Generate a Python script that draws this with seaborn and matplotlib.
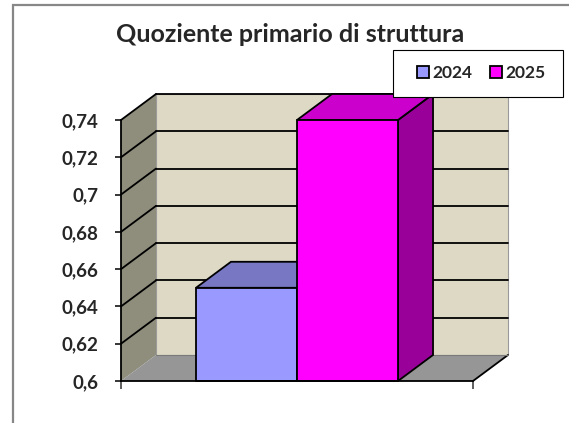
import matplotlib
matplotlib.use("Agg")
import matplotlib.pyplot as plt
from matplotlib.patches import Polygon, Rectangle, Patch
from matplotlib.ticker import FixedLocator, FixedFormatter
import seaborn as sns
import pandas as pd

# --- data -------------------------------------------------------------
category = ["Quoziente primario di struttura"]
years = ["2024", "2025"]
values = [0.65, 0.74]
front_colors = ["#9999ff", "#ff00ff"]
top_colors = ["#7777c4", "#cc00cc"]
side_colors = ["#6f6fb0", "#990099"]
tick_values = [0.6, 0.62, 0.64, 0.66, 0.68, 0.7, 0.72, 0.74]
tick_labels = ["0,6", "0,62", "0,64", "0,66", "0,68", "0,7", "0,72", "0,74"]
title = "Quoziente primario di struttura"

df = pd.DataFrame({"cat": category * len(years), "anno": years, "valore": values})

sns.set_style("white")
plt.rcParams["font.family"] = ["Lato", "DejaVu Sans"]
plt.rcParams["font.weight"] = "bold"

W, H = 569, 423
fig = plt.figure(figsize=(W / 100, H / 100), dpi=100)

# front plane of the 3D box, in pixels
fx0, fx1 = 121, 473
fy_bot, fy_top = 381, 120
ax = fig.add_axes([fx0 / W, 1 - fy_bot / H, (fx1 - fx0) / W, (fy_bot - fy_top) / H])

sns.barplot(data=df, x="cat", y="valore", hue="anno", hue_order=years,
            palette=front_colors, width=0.574, edgecolor="black", linewidth=1.3,
            saturation=1, ax=ax, legend=False)
bars = sorted([p for p in ax.patches if isinstance(p, Rectangle)], key=lambda p: p.get_x())

ax.set_ylim(tick_values[0], tick_values[-1])
ax.set_xlim(-0.5, 0.5)
x0, x1 = ax.get_xlim()
y0, y1 = ax.get_ylim()
# depth of the box as data offsets
ddx = 35 / (fx1 - fx0) * (x1 - x0)
ddy = 26 / (fy_bot - fy_top) * (y1 - y0)

# walls and floor
back = Rectangle((x0 + ddx, y0 + ddy), x1 - x0, y1 - y0, facecolor="#ddd9c4",
                 edgecolor="#9a9a9a", linewidth=0.8, zorder=0.2, clip_on=False)
side = Polygon([(x0, y0), (x0, y1), (x0 + ddx, y1 + ddy), (x0 + ddx, y0 + ddy)],
               closed=True, facecolor="#8f8d7b", edgecolor="none", zorder=0.3, clip_on=False)
floor = Polygon([(x0, y0), (x0 + ddx, y0 + ddy), (x1 + ddx, y0 + ddy), (x1, y0)],
                closed=True, facecolor="#969696", edgecolor="none", zorder=0.4, clip_on=False)
for p in (back, side, floor):
    ax.add_patch(p)
ax.plot([x1, x1 + ddx], [y0, y0 + ddy], color="black", lw=1.3, zorder=0.5, clip_on=False)
ax.plot([x0 + ddx, x1 + ddx], [y0 + ddy, y0 + ddy], color="#7a7a7a", lw=0.8, zorder=0.5, clip_on=False)

# gridlines on the back wall and the side wall
for v in tick_values[1:]:
    ax.plot([x0 + ddx, x1 + ddx], [v + ddy, v + ddy], color="black", lw=1.3, zorder=0.6, clip_on=False)
    ax.plot([x0, x0 + ddx], [v, v + ddy], color="black", lw=1.3, zorder=0.6, clip_on=False)

# 3D faces of each bar, built from the bar patches (bars start at the floor)
for i, b in enumerate(bars):
    bx, bw = b.get_x(), b.get_width()
    top_y = b.get_y() + b.get_height()
    b.set_y(y0)
    b.set_height(top_y - y0)
    z = 1 + i
    b.set_zorder(z + 0.3)
    b.set_clip_on(False)
    top = Polygon([(bx, top_y), (bx + bw, top_y), (bx + bw + ddx, top_y + ddy), (bx + ddx, top_y + ddy)],
                  closed=True, facecolor=top_colors[i], edgecolor="black", linewidth=1.3,
                  zorder=z + 0.1, clip_on=False)
    rside = Polygon([(bx + bw, y0), (bx + bw, top_y), (bx + bw + ddx, top_y + ddy), (bx + bw + ddx, y0 + ddy)],
                    closed=True, facecolor=side_colors[i], edgecolor="black", linewidth=1.3,
                    zorder=z + 0.05, clip_on=False)
    ax.add_patch(rside)
    ax.add_patch(top)

# axes styling
for s in ("top", "right"):
    ax.spines[s].set_visible(False)
for s in ("left", "bottom"):
    ax.spines[s].set_color("black")
    ax.spines[s].set_linewidth(1.3)
    ax.spines[s].set_zorder(5)
ax.yaxis.set_major_locator(FixedLocator(tick_values))
ax.yaxis.set_major_formatter(FixedFormatter(tick_labels))
ax.tick_params(axis="y", direction="out", length=4, width=1.1, color="black",
               pad=12, labelsize=13.5, left=True)
ax.set_xticks([x0, x1])
ax.set_xticklabels(["", ""])
ax.tick_params(axis="x", direction="out", length=6, width=1.1, color="#333333", bottom=True)
for lab in ax.get_yticklabels():
    lab.set_fontweight("bold")
ax.set_xlabel("")
ax.set_ylabel("")
ax.set_facecolor("none")

# title
fig.text(290 / W, 1 - 35 / H, title, ha="center", va="center", fontsize=18, fontweight="bold")

# legend box and entries
lx0, lx1, ly_top, ly_bot = 393, 563, 50, 97
fig.patches.append(Rectangle((lx0 / W, 1 - ly_bot / H), (lx1 - lx0) / W, (ly_bot - ly_top) / H,
                             transform=fig.transFigure, facecolor="white", edgecolor="black",
                             linewidth=0.8, zorder=10))
handles = [Patch(facecolor=c, edgecolor="black", linewidth=1.3) for c in front_colors]
leg = fig.legend(handles, years, loc="center", bbox_to_anchor=(481 / W, 1 - 73.5 / H),
                 ncol=2, frameon=False, handlelength=0.7, handleheight=0.7,
                 handletextpad=0.2, columnspacing=1.0, prop={"weight": "bold", "size": 12.5})
leg.set_zorder(11)

# outer chart frame
fig.patches.append(Rectangle((13 / W, -0.2), 1.2, 1 - 5 / H + 0.2, transform=fig.transFigure,
                             facecolor="none", edgecolor="#878787", linewidth=1.6, zorder=12))

fig.savefig("out.png", dpi=100)
